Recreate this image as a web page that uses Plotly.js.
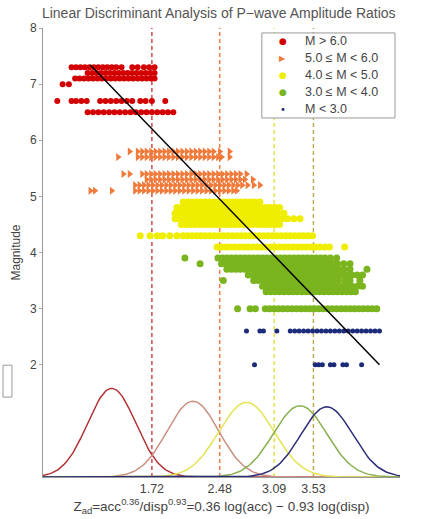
<!DOCTYPE html>
<html>
<head>
<meta charset="utf-8">
<script src="https://cdn.plot.ly/plotly-3.0.1.min.js"></script>
<style>html,body{margin:0;padding:0;background:#fff;}#chart{width:424px;height:519px;}</style>
</head>
<body>
<div id="chart"></div>
<script>
// ---------- DATA ----------
const classNames = ["M &gt; 6.0", "5.0 ≤ M &lt; 6.0", "4.0 ≤ M &lt; 5.0", "3.0 ≤ M &lt; 4.0", "M &lt; 3.0"];

// each row: [magnitude, [Z_ad values]]
const redRows = [
  [7.3, [0.82,0.87,0.92,0.97,1.02,1.07,1.12,1.17,1.22,1.27,1.32,1.38,1.50,1.56,1.63,1.69,1.75]],
  [7.2, [1.00,1.05,1.10,1.15,1.20,1.25,1.30,1.35,1.40,1.45,1.50,1.55,1.60,1.65,1.70,1.75]],
  [7.1, [0.86,0.91,0.96,1.01,1.06,1.11,1.16,1.21,1.26,1.31,1.36,1.41,1.46,1.51,1.56,1.61,1.66,1.71,1.75]],
  [7.0, [0.72,0.79]],
  [6.7, [0.66,0.82,0.87,0.93,0.99,1.14,1.20,1.26,1.32,1.38,1.44,1.50,1.59,1.65,1.72,1.87]],
  [6.5, [1.00,1.06,1.12,1.18,1.24,1.30,1.36,1.42,1.48,1.54,1.60,1.66,1.72,1.78,1.84,1.90,1.96]]
];
const orangeRows = [
  [5.8, [1.47,1.56,1.61,1.66,1.71,1.76,1.81,1.86,1.91,1.96,2.01,2.06,2.11,2.16,2.21,2.26,2.31,2.36,2.41,2.48,2.59]],
  [5.7, [1.34,1.56,1.61,1.66,1.71,1.76,1.81,1.86,1.91,1.96,2.01,2.06,2.11,2.16,2.21,2.26,2.31,2.36,2.41,2.46,2.50,2.59]],
  [5.4, [1.40,1.47,1.61,1.66,1.71,1.76,1.81,1.86,1.91,1.96,2.01,2.06,2.11,2.16,2.21,2.26,2.31,2.36,2.41,2.46,2.51,2.56,2.61,2.66,2.71,2.78]],
  [5.3, [1.66,1.71,1.76,1.81,1.86,1.91,1.96,2.01,2.06,2.11,2.16,2.21,2.26,2.31,2.36,2.41,2.46,2.51,2.56,2.61,2.66,2.71,2.76,2.85]],
  [5.2, [1.53,1.58,1.63,1.68,1.73,1.78,1.83,1.88,1.93,1.98,2.03,2.08,2.13,2.18,2.23,2.28,2.33,2.38,2.43,2.48,2.53,2.58,2.63,2.68,2.73,2.79,2.86,2.93]],
  [5.1, [1.03,1.08,1.27,1.53,1.58,1.63,1.68,1.73,1.78,1.83,1.88,1.93,1.98,2.03,2.08,2.13,2.18,2.23,2.28,2.33,2.38,2.43,2.48,2.53,2.58,2.63,2.67]]
];
const yellowRows = [
  [4.9, [2.07,2.12,2.17,2.22,2.27,2.32,2.37,2.42,2.47,2.52,2.57,2.62,2.67,2.72,2.77,2.82,2.87,2.93]],
  [4.8, [2.00,2.05,2.10,2.15,2.20,2.25,2.30,2.35,2.40,2.45,2.50,2.55,2.60,2.65,2.70,2.75,2.80,2.85,2.90,2.95,3.00,3.05,3.10,3.15]],
  [4.7, [1.98,2.03,2.08,2.13,2.18,2.23,2.28,2.33,2.38,2.43,2.48,2.53,2.58,2.63,2.68,2.73,2.78,2.83,2.88,2.93,2.98,3.03,3.08,3.13,3.20]],
  [4.6, [1.98,2.03,2.08,2.13,2.18,2.23,2.28,2.33,2.38,2.43,2.48,2.53,2.58,2.63,2.68,2.73,2.78,2.83,2.88,2.93,2.98,3.03,3.08,3.13,3.18,3.24,3.31,3.38]],
  [4.5, [2.05,2.10,2.15,2.20,2.25,2.30,2.35,2.40,2.45,2.50,2.55,2.60,2.65,2.70,2.75,2.80,2.85,2.90,2.95,3.00,3.05,3.10,3.15]],
  [4.3, [1.59,1.70,1.78,1.84,1.92,2.00,2.07,2.12,2.17,2.22,2.27,2.32,2.37,2.42,2.47,2.52,2.57,2.62,2.67,2.72,2.77,2.82,2.87,2.92,2.97,3.02,3.07,3.12,3.17,3.22,3.27,3.32,3.37,3.42,3.47,3.52]],
  [4.1, [2.45,2.50,2.55,2.60,2.65,2.70,2.75,2.80,2.85,2.90,2.95,3.00,3.05,3.10,3.15,3.20,3.25,3.30,3.35,3.40,3.45,3.50,3.55,3.60,3.66,3.71,3.88]]
];
const greenRows = [
  [3.9, [2.09,2.46,2.51,2.56,2.61,2.66,2.71,2.76,2.81,2.86,2.91,2.96,3.01,3.06,3.11,3.16,3.21,3.26,3.31,3.36,3.41,3.46,3.51,3.56,3.61,3.66,3.72,3.79]],
  [3.8, [2.26,2.50,2.55,2.60,2.65,2.70,2.75,2.80,2.85,2.90,2.95,3.00,3.05,3.10,3.15,3.20,3.25,3.30,3.35,3.40,3.45,3.50,3.55,3.60,3.65,3.70,3.75,3.80,3.87,3.94]],
  [3.7, [2.56,2.61,2.66,2.71,2.76,2.81,2.86,2.91,2.96,3.01,3.06,3.11,3.16,3.21,3.26,3.31,3.36,3.41,3.46,3.51,3.56,3.61,3.66,3.71,3.76,3.81,3.87,3.94,4.13]],
  [3.6, [2.80,2.86,2.91,2.96,3.01,3.06,3.11,3.16,3.21,3.26,3.31,3.36,3.41,3.46,3.51,3.56,3.61,3.66,3.71,3.76,3.81,3.86,3.91,3.96,4.02,4.08]],
  [3.5, [2.52,2.86,2.91,2.96,3.01,3.06,3.11,3.16,3.21,3.26,3.31,3.36,3.41,3.46,3.51,3.56,3.61,3.66,3.71,3.76,3.81,3.88,3.94,4.05]],
  [3.4, [2.96,3.01,3.06,3.11,3.16,3.21,3.26,3.31,3.36,3.41,3.46,3.51,3.56,3.61,3.66,3.71,3.76,3.81,3.86,3.91,3.96,4.02,4.08]],
  [3.3, [3.00,3.05,3.10,3.15,3.20,3.25,3.30,3.35,3.40,3.45,3.50,3.55,3.60,3.65,3.70,3.75,3.80,3.85,3.90,3.95,4.00]],
  [3.0, [2.68,2.82,2.88,2.99,3.04,3.09,3.14,3.19,3.24,3.29,3.34,3.39,3.44,3.49,3.54,3.59,3.64,3.69,3.74,3.79,3.84,3.89,3.94,3.99,4.04,4.09,4.14,4.19,4.24]]
];
const blueRows = [
  [2.6, [2.78,2.93,2.97,3.12,3.27,3.32,3.37,3.42,3.47,3.52,3.57,3.62,3.67,3.72,3.77,3.82,3.87,3.92,3.97,4.02,4.07,4.12,4.17,4.22,4.27]],
  [2.0, [2.87,3.55,3.59,3.63,3.72,3.76,3.86,3.90,4.07]]
];

// discriminant fit line (two ends)
const fitZ = [1.03, 4.27];
const fitM = [7.34, 2.00];

// class-conditional Gaussians of Z_ad
const gaussMean  = [1.27, 2.18, 2.78, 3.38, 3.68];
const gaussPeak  = [1.58, 1.35, 1.33, 1.27, 1.25];
const gaussSigma = [0.27, 0.29, 0.31, 0.30, 0.29];

// decision thresholds
const thresholds = [1.72, 2.48, 3.09, 3.53];
const thresholdLabels = ["1.72", "2.48", "3.09", "3.53"];

const yTicks = [2, 3, 4, 5, 6, 7, 8];

// ---------- STYLE ----------
const markerColors = ["#d20000", "#f07a3a", "#f0ee00", "#7ab41e", "#1c2a7a"];
const markerSymbols = ["circle", "triangle-right", "circle", "circle", "circle"];
const markerSizes = [6, 7, 7, 7, 5];
const legendGlyphs = ["●", "▶", "●", "●", "•"];
const legendGlyphSizes = [9, 8, 9, 9, 10];
const gaussColors = ["#b03034", "#c99080", "#e4e455", "#8ab050", "#2c2c78"];
const threshColors = ["#d04848", "#ee7f48", "#e6e24a", "#c0aa50"];
const FONT = "Liberation Sans, Arial, sans-serif";

function flatten(rows) {
  const x = [], y = [];
  rows.forEach(r => r[1].forEach(v => { x.push(v); y.push(r[0]); }));
  return {x, y};
}

const traces = [];

// Gaussians
const zGrid = [];
for (let z = 0.5; z <= 4.5001; z += 0.02) zGrid.push(+z.toFixed(3));
gaussMean.forEach((mu, i) => {
  traces.push({
    x: zGrid,
    y: zGrid.map(z => gaussPeak[i] * Math.exp(-0.5 * Math.pow((z - mu) / gaussSigma[i], 2))),
    mode: "lines", type: "scatter", showlegend: false, hoverinfo: "skip",
    line: {color: gaussColors[i], width: 1.5}
  });
});

[redRows, orangeRows, yellowRows, greenRows, blueRows].forEach((rows, i) => {
  const d = flatten(rows);
  traces.push({
    x: d.x, y: d.y, type: "scatter", mode: "markers", name: classNames[i], showlegend: false,
    marker: {color: markerColors[i], symbol: markerSymbols[i], size: markerSizes[i], line: {width: 0}}
  });
});

traces.push({
  x: fitZ, y: fitM, mode: "lines", type: "scatter", showlegend: false,
  line: {color: "#000", width: 1.5}
});

const shapes = thresholds.map((t, i) => ({
  type: "line", xref: "x", yref: "paper", x0: t, x1: t, y0: 0, y1: 1,
  layer: "below", line: {color: threshColors[i], width: 1.5, dash: "4px,3px"}
}));
// stray box at the left edge
shapes.push({
  type: "rect", xref: "paper", yref: "paper", x0: -0.112, x1: -0.087, y0: 0.178, y1: 0.249,
  line: {color: "#999", width: 1}
});

// legend box (compact, like the original)
const legTop = 0.989, legBottom = 0.7996, legLeft = 0.613, legRight = 0.986;
shapes.push({
  type: "rect", xref: "paper", yref: "paper", x0: legLeft, x1: legRight, y0: legBottom, y1: legTop,
  fillcolor: "#fff", line: {color: "#999", width: 1}, layer: "above"
});
const annotations = [];
const step = (legTop - legBottom) / 5;
classNames.forEach((name, i) => {
  const yy = legTop - step * (i + 0.5);
  annotations.push({
    xref: "paper", yref: "paper", x: 0.672, y: yy, xanchor: "center", yanchor: "middle",
    text: legendGlyphs[i], showarrow: false,
    font: {family: "DejaVu Sans", size: legendGlyphSizes[i], color: markerColors[i]}
  });
  annotations.push({
    xref: "paper", yref: "paper", x: 0.728, y: yy, xanchor: "left", yanchor: "middle",
    text: name, showarrow: false,
    font: {family: FONT, size: 12.5, color: "#444"}
  });
});

const layout = {
  width: 424, height: 519,
  margin: {l: 43, r: 24, t: 28, b: 42},
  paper_bgcolor: "#fff", plot_bgcolor: "#fff",
  font: {family: FONT, size: 12, color: "#444"},
  title: {text: "Linear Discriminant Analysis of P−wave Amplitude Ratios",
          x: 0.516, xanchor: "center", y: 0.975, yanchor: "middle",
          font: {family: FONT, size: 14, color: "#555"}},
  xaxis: {
    range: [0.5, 4.5], tickvals: thresholds, ticktext: thresholdLabels,
    showgrid: false, zeroline: false, showline: true, linecolor: "#999", linewidth: 1,
    ticks: "", tickfont: {family: FONT, size: 12.5, color: "#444"},
    title: {text: "Z<sub>ad</sub>=acc<sup>0.36</sup>/disp<sup>0.93</sup>=0.36 log(acc) − 0.93 log(disp)",
            font: {family: FONT, size: 13.5, color: "#444"}, standoff: 0}
  },
  yaxis: {
    range: [0, 8], tickvals: yTicks,
    showgrid: false, zeroline: false, showline: true, linecolor: "#999", linewidth: 1,
    ticks: "outside", ticklen: 3, tickcolor: "#aaa", tickfont: {family: FONT, size: 12, color: "#444"},
    title: {text: "Magnitude", font: {family: FONT, size: 12, color: "#444"}, standoff: 6}
  },
  shapes: shapes,
  annotations: annotations,
  showlegend: false
};

Plotly.newPlot("chart", traces, layout, {displayModeBar: false, staticPlot: true});
</script>
</body>
</html>
